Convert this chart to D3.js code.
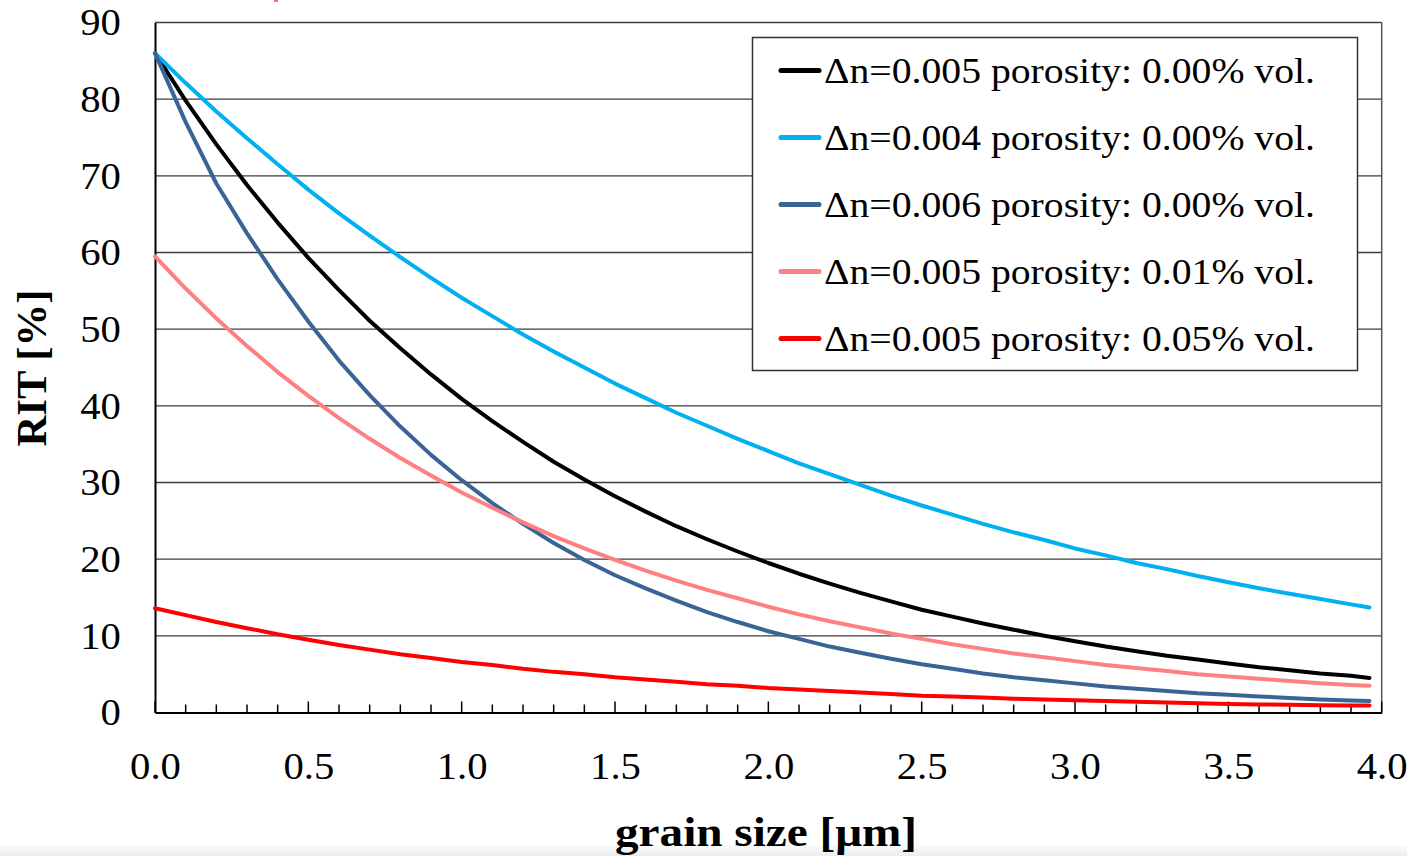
<!DOCTYPE html>
<html>
<head>
<meta charset="utf-8">
<script src="https://cdn.jsdelivr.net/npm/d3@7"></script>
<style>
  body { margin: 0; background: #fff; }
  text { font-family: "Liberation Serif", "Times New Roman", serif; }
</style>
</head>
<body>
<script>
// grain size [µm]
const grainSize = [0, 0.1, 0.2, 0.3, 0.4, 0.5, 0.6, 0.7, 0.8, 0.9,
  1.0, 1.1, 1.2, 1.3, 1.4, 1.5, 1.6, 1.7, 1.8, 1.9,
  2.0, 2.1, 2.2, 2.3, 2.4, 2.5, 2.6, 2.7, 2.8, 2.9,
  3.0, 3.1, 3.2, 3.3, 3.4, 3.5, 3.6, 3.7, 3.8, 3.9, 3.96]

// RIT [%]
const ritN005P000 = [86.0, 79.8, 74.1, 68.8, 63.9, 59.3, 55.1, 51.1, 47.5, 44.1,
  40.9, 38.0, 35.3, 32.7, 30.4, 28.2, 26.2, 24.3, 22.6, 21.0,
  19.5, 18.1, 16.8, 15.6, 14.5, 13.4, 12.5, 11.6, 10.8, 10.0,
  9.3, 8.6, 8.0, 7.4, 6.9, 6.4, 5.9, 5.5, 5.1, 4.8, 4.5]
const ritN004P000 = [86.0, 82.1, 78.4, 74.9, 71.5, 68.2, 65.1, 62.2, 59.4, 56.7,
  54.1, 51.7, 49.3, 47.1, 45.0, 42.9, 41.0, 39.1, 37.4, 35.7,
  34.1, 32.5, 31.1, 29.7, 28.3, 27.0, 25.8, 24.6, 23.5, 22.5,
  21.4, 20.5, 19.5, 18.7, 17.8, 17.0, 16.2, 15.5, 14.8, 14.1, 13.7]
const ritN006P000 = [86.0, 77.0, 69.0, 62.5, 56.5, 51.0, 45.9, 41.4, 37.3, 33.6,
  30.3, 27.3, 24.6, 22.1, 19.9, 17.9, 16.2, 14.6, 13.1, 11.8,
  10.6, 9.6, 8.6, 7.8, 7.0, 6.3, 5.7, 5.1, 4.6, 4.2,
  3.8, 3.4, 3.1, 2.8, 2.5, 2.3, 2.1, 1.9, 1.7, 1.55, 1.5]
const ritN005P001 = [59.5, 55.3, 51.4, 47.8, 44.4, 41.3, 38.4, 35.7, 33.2, 30.9,
  28.7, 26.7, 24.8, 23.0, 21.4, 19.9, 18.5, 17.2, 16.0, 14.9,
  13.8, 12.8, 11.9, 11.1, 10.3, 9.6, 8.9, 8.3, 7.7, 7.2,
  6.7, 6.2, 5.8, 5.4, 5.0, 4.7, 4.4, 4.1, 3.8, 3.6, 3.5]
const ritN005P005 = [13.6, 12.7, 11.8, 11.0, 10.2, 9.5, 8.8, 8.2, 7.6, 7.1,
  6.6, 6.2, 5.7, 5.3, 5.0, 4.6, 4.3, 4.0, 3.7, 3.5,
  3.2, 3.0, 2.8, 2.6, 2.4, 2.2, 2.1, 1.95, 1.8, 1.7,
  1.6, 1.5, 1.4, 1.3, 1.2, 1.1, 1.05, 1.0, 0.95, 0.9, 0.9]

const seriesNames = [
  'Δn=0.005 porosity: 0.00% vol.',
  'Δn=0.004 porosity: 0.00% vol.',
  'Δn=0.006 porosity: 0.00% vol.',
  'Δn=0.005 porosity: 0.01% vol.',
  'Δn=0.005 porosity: 0.05% vol.'
]
const seriesValues = [ritN005P000, ritN004P000, ritN006P000, ritN005P001, ritN005P005]
const seriesColors = ['#000000', '#00b0f0', '#3a6496', '#ff8080', '#ff0000']

const xTicks = [0, 0.5, 1.0, 1.5, 2.0, 2.5, 3.0, 3.5, 4.0]
const xMinorTicks = d3.range(0, 41).map(i => i / 10)
const yTicks = [0, 10, 20, 30, 40, 50, 60, 70, 80, 90]

const width = 1407
const height = 856

const svg = d3.select('body')
  .append('svg')
  .attr('width', width)
  .attr('height', height)

// faint page shadow at the bottom edge
const defs = svg.append('defs')
const grad = defs.append('linearGradient')
  .attr('id', 'shade')
  .attr('x1', 0).attr('y1', 0).attr('x2', 0).attr('y2', 1)
grad.append('stop').attr('offset', '0%').attr('stop-color', '#fbfbfb')
grad.append('stop').attr('offset', '100%').attr('stop-color', '#ececec')
svg.append('rect')
  .attr('x', 0).attr('y', 845)
  .attr('width', width).attr('height', height - 845)
  .attr('fill', 'url(#shade)')

// cut-off mark at the top
svg.append('rect')
  .attr('x', 274).attr('y', 0)
  .attr('width', 4).attr('height', 2)
  .attr('fill', '#ff7070')

const x = d3.scaleLinear().domain([0, 4]).range([155, 1381.7])
const y = d3.scaleLinear().domain([0, 90]).range([712.5, 22.5])

// gridlines
svg.append('g')
  .selectAll('line')
  .data(yTicks.filter(d => d > 0))
  .join('line')
  .attr('x1', x(0))
  .attr('x2', x(4))
  .attr('y1', d => y(d))
  .attr('y2', d => y(d))
  .attr('stroke', '#3c3c3c')
  .attr('stroke-width', 1.4)

// right border
svg.append('line')
  .attr('x1', x(4)).attr('x2', x(4))
  .attr('y1', y(90)).attr('y2', y(0))
  .attr('stroke', '#555')
  .attr('stroke-width', 1.5)

// minor ticks, pointing up into the plot
svg.append('g')
  .selectAll('line')
  .data(xMinorTicks)
  .join('line')
  .attr('x1', d => x(d))
  .attr('x2', d => x(d))
  .attr('y1', y(0))
  .attr('y2', (d, i) => y(0) - (i % 5 === 0 ? 11 : 8))
  .attr('stroke', '#000')
  .attr('stroke-width', 1.5)

// x axis
const xAxis = svg.append('g')
  .attr('transform', `translate(0, ${y(0)})`)
  .call(d3.axisBottom(x).tickValues(xTicks).tickSize(0).tickFormat(d3.format('.1f')))
xAxis.select('.domain').attr('stroke', '#000').attr('stroke-width', 2)
xAxis.selectAll('text')
  .attr('y', 66.5)
  .attr('dy', 0)
  .attr('fill', '#000')
  .attr('transform', 'scale(1.1,1)')
  .attr('x', 0)
  .style('font-size', '37px')
xAxis.selectAll('.tick text').each(function () {
  // keep labels centred after the horizontal stretch
  const t = d3.select(this.parentNode).attr('transform')
})

// y axis
const yAxis = svg.append('g')
  .attr('transform', `translate(${x(0)}, 0)`)
  .call(d3.axisLeft(y).tickValues(yTicks).tickSize(0).tickPadding(31))
yAxis.select('.domain').attr('stroke', '#000').attr('stroke-width', 2)
yAxis.selectAll('text')
  .attr('fill', '#000')
  .attr('dy', '0.33em')
  .attr('transform', 'scale(1.1,1)')
  .style('font-size', '37px')

// series
const line = d3.line()
  .x((d, i) => x(grainSize[i]))
  .y(d => y(d))

svg.append('g')
  .selectAll('path')
  .data(seriesValues)
  .join('path')
  .attr('d', d => line(d))
  .attr('fill', 'none')
  .attr('stroke', (d, i) => seriesColors[i])
  .attr('stroke-width', 4)
  .attr('stroke-linejoin', 'round')
  .attr('stroke-linecap', 'round')

// axis titles
svg.append('text')
  .attr('transform', 'translate(46, 368) rotate(-90)')
  .attr('text-anchor', 'middle')
  .attr('textLength', 157)
  .attr('lengthAdjust', 'spacingAndGlyphs')
  .style('font-size', '42px')
  .style('font-weight', 'bold')
  .text('RIT [%]')

svg.append('text')
  .attr('x', 766)
  .attr('y', 846)
  .attr('text-anchor', 'middle')
  .attr('textLength', 302)
  .attr('lengthAdjust', 'spacingAndGlyphs')
  .style('font-size', '42px')
  .style('font-weight', 'bold')
  .text('grain size [μm]')

// legend
const legend = svg.append('g')
legend.append('rect')
  .attr('x', 752.5).attr('y', 37.5)
  .attr('width', 605).attr('height', 333)
  .attr('fill', '#fff')
  .attr('stroke', '#333')
  .attr('stroke-width', 1.5)

const rows = legend.selectAll('.row')
  .data(seriesNames)
  .join('g')
  .attr('class', 'row')
  .attr('transform', (d, i) => `translate(0, ${70.5 + i * 67})`)

rows.append('line')
  .attr('x1', 781).attr('x2', 819)
  .attr('stroke', (d, i) => seriesColors[i])
  .attr('stroke-width', 5)
  .attr('stroke-linecap', 'round')

rows.append('text')
  .attr('x', 824)
  .attr('y', 12.5)
  .attr('textLength', 491)
  .attr('lengthAdjust', 'spacingAndGlyphs')
  .style('font-size', '36px')
  .text(d => d)
</script>
</body>
</html>
